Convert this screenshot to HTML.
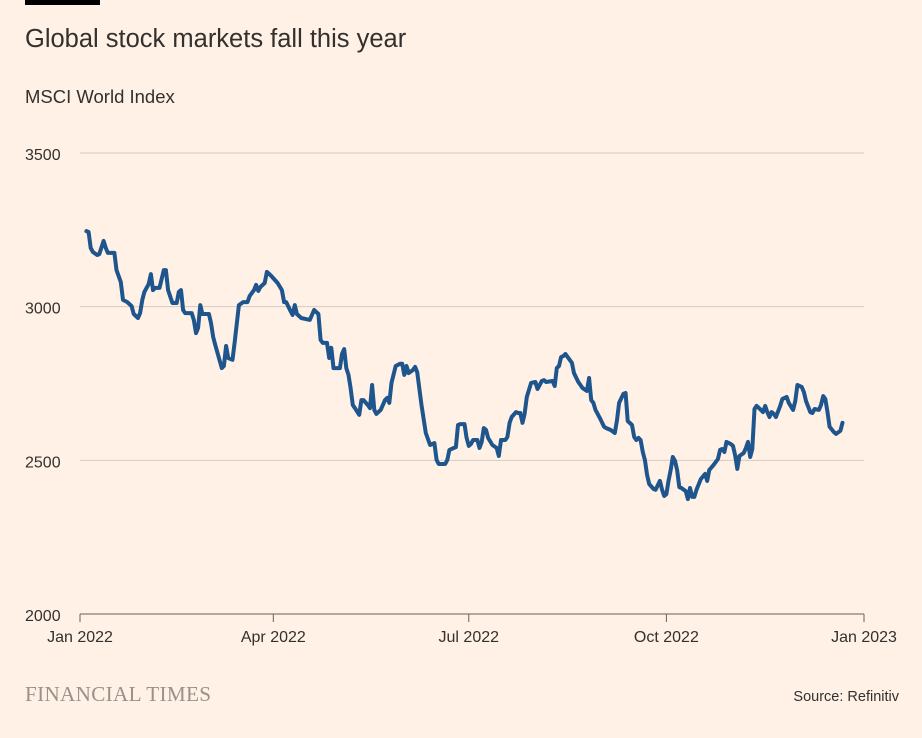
<!DOCTYPE html>
<html><head><meta charset="utf-8">
<style>
body{margin:0;background:#fff1e5;}
svg{display:block;font-family:"Liberation Sans",sans-serif;}
</style></head>
<body>
<svg id="chart" width="922" height="738" viewBox="0 0 922 738">
<rect width="922" height="738" fill="#fff1e5"/>
<rect x="25" y="0" width="75" height="5" fill="#000"/>
<text x="25" y="47" font-size="25.5" fill="#33302e">Global stock markets fall this year</text>
<text x="25" y="103" font-size="18.5" fill="#33302e">MSCI World Index</text>
<g id="grid"></g>
<g id="xaxis"></g>
<path id="line" fill="none" stroke="#1e558c" stroke-width="4" stroke-linejoin="round" stroke-linecap="round"/>
<text x="25" y="701" font-family="Liberation Serif,serif" font-size="21.2" fill="#99918a" letter-spacing="0.3">FINANCIAL TIMES</text>
<text x="899" y="701" text-anchor="end" font-size="14.5" fill="#33302e">Source: Refinitiv</text>
</svg>
<script>
const yTicks=[2000,2500,3000,3500];
const xTickLabels=["Jan 2022","Apr 2022","Jul 2022","Oct 2022","Jan 2023"];
const xTickDays=[0,90,181,273,365];
const days=[3,4,5,6,8,9,11,12,13,16,17,19,20,22,24,25,27,28,29,30,32,33,34,35,37,39,40,41,43,45,46,47,48,49,52,53,54,55,56,57,60,61,62,63,66,67,68,69,71,72,74,76,78,79,81,82,83,84,86,87,89,92,94,95,96,98,99,100,101,103,107,109,111,112,113,115,116,117,118,121,122,123,124,125,126,127,128,130,131,132,134,135,136,137,138,140,142,143,144,145,147,149,150,151,152,153,155,156,157,159,161,163,165,166,167,170,171,172,174,175,176,177,179,180,181,182,183,185,186,187,188,189,190,192,194,195,196,198,199,200,201,203,204,205,206,207,208,210,212,213,215,216,217,220,221,222,223,224,225,226,228,229,230,232,234,236,237,238,239,240,242,244,245,247,249,250,251,253,254,255,257,258,259,260,261,262,263,264,265,267,268,270,271,272,273,274,275,276,277,278,279,280,282,283,284,285,286,287,289,291,292,293,295,297,298,299,300,301,303,304,305,306,307,309,310,311,312,313,314,315,317,318,319,320,321,322,323,324,326,327,329,330,332,333,334,336,337,338,340,341,342,344,345,346,347,348,349,351,352,354,355];
const values=[3246,3243,3191,3178,3168,3171,3214,3191,3175,3175,3119,3080,3022,3015,3002,2976,2963,2979,3022,3048,3074,3106,3054,3061,3061,3119,3119,3054,3012,3012,3048,3054,2989,2979,2979,2957,2914,2931,3005,2976,2976,2947,2901,2875,2800,2807,2872,2833,2827,2885,3005,3015,3015,3035,3054,3071,3051,3064,3077,3113,3100,3077,3054,3015,3015,2986,2973,3005,2976,2963,2957,2989,2976,2892,2882,2882,2833,2866,2800,2800,2846,2862,2800,2778,2735,2680,2670,2648,2696,2696,2680,2670,2745,2664,2651,2664,2696,2703,2687,2752,2807,2814,2814,2778,2807,2784,2794,2804,2787,2680,2589,2550,2556,2501,2488,2488,2501,2534,2540,2543,2615,2618,2618,2573,2547,2553,2566,2566,2540,2560,2605,2599,2573,2550,2540,2514,2566,2566,2576,2622,2641,2657,2654,2654,2622,2651,2706,2752,2755,2732,2758,2761,2755,2758,2742,2800,2807,2836,2839,2846,2827,2817,2784,2755,2735,2726,2768,2696,2687,2664,2638,2609,2605,2599,2589,2631,2687,2716,2719,2628,2615,2576,2566,2573,2566,2527,2501,2452,2423,2407,2404,2433,2404,2384,2390,2433,2469,2511,2498,2469,2413,2410,2400,2374,2410,2381,2381,2404,2439,2456,2433,2469,2485,2504,2534,2537,2527,2560,2553,2547,2517,2472,2514,2524,2540,2560,2511,2537,2667,2677,2664,2657,2677,2657,2641,2657,2651,2641,2677,2700,2706,2687,2664,2693,2745,2739,2722,2693,2657,2654,2667,2664,2680,2709,2700,2657,2609,2592,2586,2596,2622];

const X0=80,X1=864,Y0=614,Y1=153;
function xScale(d){return X0+d/365*(X1-X0);}
function yScale(v){return Y0-(v-2000)/1500*(Y0-Y1);}
const NS="http://www.w3.org/2000/svg";
const grid=document.getElementById('grid');
yTicks.forEach(function(t){
  const l=document.createElementNS(NS,'line');
  l.setAttribute('x1',X0);l.setAttribute('x2',X1);
  l.setAttribute('y1',yScale(t));l.setAttribute('y2',yScale(t));
  l.setAttribute('stroke',t===2000?'#66605c':'#d4cbc2');
  l.setAttribute('stroke-width',1);
  
  
  grid.appendChild(l);
  const tx=document.createElementNS(NS,'text');
  tx.setAttribute('x',25);tx.setAttribute('y',yScale(t)+7);
  tx.setAttribute('font-size','16');tx.setAttribute('fill','#33302e');
  tx.textContent=t;
  
  
  grid.appendChild(tx);
});
const xa=document.getElementById('xaxis');
xTickDays.forEach(function(d,i){
  const l=document.createElementNS(NS,'line');
  l.setAttribute('x1',xScale(d));l.setAttribute('x2',xScale(d));
  l.setAttribute('y1',Y0);l.setAttribute('y2',Y0+8);
  l.setAttribute('stroke','#66605c');
  
  
  xa.appendChild(l);
  const tx=document.createElementNS(NS,'text');
  tx.setAttribute('x',xScale(d));tx.setAttribute('y',642);
  tx.setAttribute('text-anchor','middle');
  tx.setAttribute('font-size','16');tx.setAttribute('fill','#33302e');
  tx.textContent=xTickLabels[i];
  
  
  xa.appendChild(tx);
});
let dstr='';
days.forEach(function(d,i){dstr+=(i?'L':'M')+xScale(d).toFixed(1)+','+yScale(values[i]).toFixed(1);});
document.getElementById('line').setAttribute('d',dstr);
</script>
</body></html>
